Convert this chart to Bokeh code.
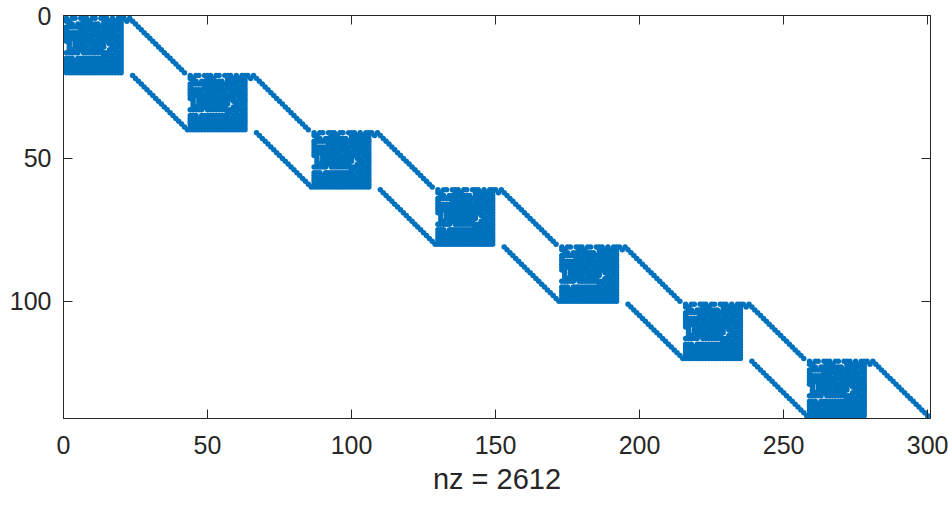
from bokeh.plotting import figure
from bokeh.models import Range1d, LinearAxis, FixedTicker, ColumnDataSource, CustomJSTickFormatter
from bokeh.embed import file_html
from bokeh.resources import INLINE

# ---- data (sparsity pattern) ----
n_rows = 140
n_cols = 300
block_row_starts = [0, 20, 40, 60, 80, 100, 120]
block_col_starts = [0, 43, 86, 129, 172, 215, 258]
# one dense block (20 rows x 22 cols), '#' = nonzero
block_pattern = [
    "#.##.###.##.###.#.##" + "#.",
    "##....###....#######" + ".#",
    ".##.########.#######" + "..",
    "#######.#########.##" + "..",
    "#....#######.##.####" + "..",
    "########.#########.#" + "..",
    "#####.#######.######" + "..",
    "##########.#########" + "..",
    "##.#############.###" + "..",
    ".#.####.######.##.##" + "..",
    ".#.#####.#####..####" + "..",
    ".##.#########..###.#" + "..",
    "#####.##########.###" + "..",
    ".............##.#.##" + "..",
    "###.##########.#####" + "..",
    "####################" + "..",
    "####################" + "..",
    "####################" + "..",
    "####################" + "..",
    "####################" + "..",
]
diag_length = 20
upper_diag_row_starts = [1, 21, 41, 61, 81, 101, 121]
upper_diag_col_starts = [23, 66, 109, 152, 195, 238, 281]
lower_diag_row_starts = [21, 41, 61, 81, 101, 121]
lower_diag_col_starts = [24, 67, 110, 153, 196, 239]
x_ticks = [0, 50, 100, 150, 200, 250, 300]
y_ticks = [0, 50, 100]

# ---- build nonzero list ----
rows, cols = [], []
for r0, c0 in zip(block_row_starts, block_col_starts):
    for i, line in enumerate(block_pattern):
        for j, ch in enumerate(line):
            if ch == "#":
                rows.append(r0 + i + 1)
                cols.append(c0 + j + 1)
for r0, c0 in zip(upper_diag_row_starts, upper_diag_col_starts):
    for k in range(diag_length):
        rows.append(r0 + k)
        cols.append(c0 + k)
for r0, c0 in zip(lower_diag_row_starts, lower_diag_col_starts):
    for k in range(diag_length):
        rows.append(r0 + k)
        cols.append(c0 + k)
nz = len(rows)

src = ColumnDataSource(dict(x=cols, y=rows))

AX = "#262626"
FONT = "Liberation Sans"

p = figure(width=948, height=505, output_backend="svg", toolbar_location=None,
           x_range=Range1d(0, n_cols + 1), y_range=Range1d(n_rows + 1, 0),
           min_border_left=63, min_border_right=18, min_border_top=15, min_border_bottom=87)
p.background_fill_color = "white"
p.border_fill_color = "white"
p.outline_line_color = AX
p.outline_line_width = 1
p.xgrid.visible = False
p.ygrid.visible = False

p.scatter("x", "y", source=src, marker="circle", size=5.5,
          fill_color="#0072BD", line_color=None)

def style(ax, ticks, labels=True):
    ax.ticker = FixedTicker(ticks=ticks)
    ax.minor_tick_line_color = None
    ax.major_tick_in = 9
    ax.major_tick_out = 0
    ax.axis_line_color = AX
    ax.major_tick_line_color = AX
    ax.major_label_text_color = AX
    ax.major_label_text_font = FONT
    ax.major_label_text_font_size = "25px"
    if not labels:
        ax.formatter = CustomJSTickFormatter(code="return ''")
        ax.major_label_standoff = 0

style(p.xaxis[0], x_ticks)
style(p.yaxis[0], y_ticks)
p.xaxis[0].major_label_standoff = 17
p.yaxis[0].major_label_standoff = 12
p.xaxis[0].axis_label = f"nz = {nz}"
p.xaxis[0].axis_label_text_font = FONT
p.xaxis[0].axis_label_text_font_size = "29px"
p.xaxis[0].axis_label_text_font_style = "normal"
p.xaxis[0].axis_label_text_color = AX
p.xaxis[0].axis_label_standoff = 6

top = LinearAxis()
style(top, x_ticks, labels=False)
p.add_layout(top, "above")
right = LinearAxis()
style(right, y_ticks, labels=False)
p.add_layout(right, "right")

open("out.html", "w").write(file_html(p, INLINE))
